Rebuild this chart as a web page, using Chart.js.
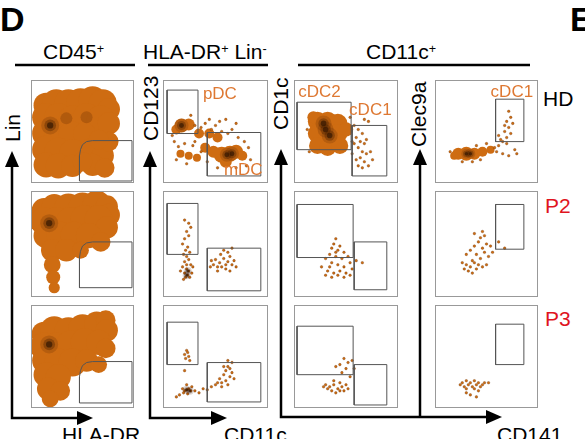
<!DOCTYPE html>
<html>
<head>
<meta charset="utf-8">
<script src="https://cdn.jsdelivr.net/npm/chart.js@4.4.0/dist/chart.umd.min.js"></script>
<style>
  body { margin: 0; background: #fff; font-family: 'Liberation Sans', Arial, sans-serif; }
  #fig { position: relative; width: 585px; height: 439px; overflow: hidden; }
  .panel { position: absolute; border: 1px solid #999; box-sizing: border-box; overflow: hidden; }
  .panel canvas { display: block; }
  .t { position: absolute; white-space: nowrap; color: #000; line-height: 1; }
  .rot { transform-origin: left top; transform: rotate(-90deg); }
  sup { font-size: 0.6em; vertical-align: 0.5em; line-height: 0; }
  svg { position: absolute; left: 0; top: 0; }
</style>
</head>
<body>
<div id="fig">
  <svg width="585" height="439">
    <g stroke="#000" stroke-width="2.5" fill="none">
      <line x1="15" y1="65" x2="135" y2="65"/>
      <line x1="148" y1="65" x2="268" y2="65"/>
      <line x1="298" y1="65" x2="530" y2="65"/>
      <polyline points="12,164 12,418 78,418"/>
      <polyline points="150,164 150,418 214,418"/>
      <polyline points="281,164 281,417 490,417"/>
      <line x1="420" y1="164" x2="420" y2="417"/>
    </g>
    <g fill="#000">
      <polygon points="12,151 5,167 19,167"/>
      <polygon points="150,151 143,167 157,167"/>
      <polygon points="281,149 274,165 288,165"/>
      <polygon points="420,149 413,165 427,165"/>
      <polygon points="93,418 77,411 77,425"/>
      <polygon points="227,418 211,411 211,425"/>
      <polygon points="502,417 486,410 486,424"/>
    </g>
  </svg>
  <div class="t" style="left:0;top:2px;font-size:34px;font-weight:bold">D</div>
  <div class="t" style="left:570px;top:2px;font-size:34px;font-weight:bold">E</div>
  <div class="t" style="left:43px;top:41px;font-size:21px">CD45<sup>+</sup></div>
  <div class="t" style="left:143px;top:41px;font-size:21px">HLA-DR<sup>+</sup> Lin<sup>-</sup></div>
  <div class="t" style="left:366px;top:41px;font-size:21px">CD11c<sup>+</sup></div>
  <div class="t rot" style="left:2px;top:142px;font-size:21px">Lin</div>
  <div class="t rot" style="left:140px;top:141px;font-size:21px">CD123</div>
  <div class="t rot" style="left:270px;top:130px;font-size:21px">CD1c</div>
  <div class="t rot" style="left:408px;top:147px;font-size:21px">Clec9a</div>
  <div class="t" style="left:62px;top:424px;font-size:21px">HLA-DR</div>
  <div class="t" style="left:224px;top:424px;font-size:21px">CD11c</div>
  <div class="t" style="left:497px;top:424px;font-size:21px">CD141</div>
  <div class="t" style="left:543px;top:88px;font-size:21px">HD</div>
  <div class="t" style="left:545px;top:195px;font-size:21px;color:#e0141e">P2</div>
  <div class="t" style="left:545px;top:308px;font-size:21px;color:#e0141e">P3</div>
</div>
<script>
// panel boxes: columns and rows (px)
const colX = [31, 163, 294, 435];
const colW = [103, 105, 104, 103];
const rowY = [80, 191, 305];
const rowH = [103, 106, 103];

// column 1: Lin vs HLA-DR density clouds [x, y, r]
const linHdCloud = [[14,76,9],[24,78,10],[36,78,10],[48,79,10],[60,81,10],[70,78,10],[76,72,8],[14,64,10],[26,64,10],[40,62,10],[54,64,10],[68,62,10],[76,58,8],[14,48,10],[26,48,10],[40,46,10],[52,48,8],[14,32,10],[26,30,10],[40,30,9],[14,17,9],[26,16,9],[40,16,8],[58,32,8],[70,26,8],[60,17,8],[72,14,7],[76,40,7],[66,42,7],[50,20,7]];
const linHdCore = [[18,56]];
const linHdStreak = [[34,63],[54,64]];
const linP2Cloud = [[12,82,9],[22,86,9],[36,85,10],[50,86,10],[64,88,10],[74,86,8],[76,78,8],[12,72,10],[24,72,10],[38,72,10],[52,74,10],[66,74,10],[74,66,8],[14,58,9],[28,58,10],[42,58,10],[56,58,9],[68,52,7],[20,44,8],[34,44,8],[48,44,6],[20,30,6],[21,18,5],[22,8,4]];
const linP2Core = [[17,70]];
const linP3Cloud = [[12,72,9],[22,76,10],[36,75,10],[50,78,10],[64,82,9],[73,86,7],[74,76,8],[12,60,10],[24,60,10],[38,62,10],[52,64,10],[66,64,9],[73,58,7],[14,46,10],[26,44,10],[40,44,10],[54,46,8],[66,42,6],[14,32,9],[26,30,9],[16,18,8],[28,16,7],[18,8,6]];
const linP3Core = [[17,62]];
const linGateHd = [[99,41],[60,41],[54,40],[50,37],[48,32],[47,26],[47,1],[99,1],[99,41]];
const linGateP2 = [[99,52],[60,52],[54,51],[50,48],[48,43],[47,37],[47,8],[99,8],[99,52]];
const linGateP3 = [[99,45],[60,45],[54,44],[50,41],[48,36],[47,30],[47,4],[99,4],[99,45]];

// column 2: CD123 vs CD11c
const cd123HdCloud = [[17,56,7],[24,57,6],[12,52,5],[56,27,8],[64,28,8],[70,30,7],[48,30,6],[76,26,5],[60,20,6],[40,34,5],[34,48,5],[44,48,5],[52,44,5],[16,28,4],[24,26,4],[32,24,4]];
const cd123HdDots = [[10,40],[14,35],[30,56],[36,54],[40,58],[46,52],[50,56],[56,50],[62,48],[66,52],[72,44],[78,40],[82,34],[84,22],[80,16],[70,14],[52,14],[42,20],[36,30],[28,36],[20,38],[12,22],[22,18],[30,40],[60,62],[54,60],[44,62],[70,58],[26,66],[8,46]];
const cd123HdCore = [[17,56],[61,27],[66,28]];
const cd123P2Dots = [[20,55],[22,62],[24,58],[26,66],[18,50],[23,47],[21,44],[25,42],[19,40],[22,38],[24,35],[20,33],[26,30],[18,28],[22,26],[24,24],[20,22],[23,20],[21,18],[25,18],[19,16],[27,22],[16,24],[22,30],[28,28],[50,35],[54,32],[58,36],[62,33],[66,30],[56,28],[60,26],[64,38],[52,28],[48,30],[68,34],[55,40],[62,42],[58,44],[70,28],[46,34],[60,30],[64,24],[52,24],[66,46],[45,28],[20,73],[24,70]];
const cd123P2Core = [[22,20],[23,24]];
const cd123P3Dots = [[20,52],[22,56],[24,50],[21,48],[23,54],[25,46],[20,36],[18,18],[20,16],[22,17],[24,18],[26,16],[19,14],[23,13],[27,20],[22,22],[30,16],[34,14],[38,18],[42,17],[46,20],[50,22],[54,28],[56,24],[58,32],[60,36],[62,40],[64,38],[66,34],[60,26],[56,20],[64,30],[68,28],[62,22],[58,40],[66,44],[62,46],[52,24],[12,10],[15,12]];
const cd123P3Core = [[22,17],[25,16]];
const pdcGates = [[[3,48],[33,48],[33,91],[3,91],[3,48]],[[3,40],[33,40],[33,89],[3,89],[3,40]],[[3,42],[33,42],[33,84],[3,84],[3,42]]];
const mdcGates = [[[42,6],[94,6],[94,49],[42,49],[42,6]],[[42,5],[94,5],[94,46],[42,46],[42,5]],[[42,5],[94,5],[94,44],[42,44],[42,5]]];

// column 3: CD1c vs CD11c
const cd1cHdCloud = [[22,60,8],[32,60,8],[42,58,8],[22,48,8],[32,48,8],[42,48,8],[22,36,7],[32,34,7],[44,36,7],[50,52,6],[18,64,5]];
const cd1cHdDots = [[58,56],[62,52],[66,48],[60,44],[64,40],[68,38],[62,34],[66,30],[70,28],[64,24],[68,20],[72,16],[60,22],[66,14],[74,30],[70,42],[58,38],[76,22],[62,16],[56,28],[72,60],[68,62],[14,30],[12,52],[54,64],[56,40]];
const cd1cHdCore = [[30,52],[34,46],[28,58]];
const cd1cP2Dots = [[40,55],[38,50],[36,46],[42,44],[44,48],[48,42],[34,40],[40,38],[46,36],[52,38],[30,36],[36,32],[42,30],[48,28],[54,32],[26,28],[32,24],[38,22],[44,24],[50,22],[56,26],[30,20],[36,18],[42,20],[48,18],[54,20],[60,34],[66,32],[40,42],[34,28]];
const cd1cP3Dots = [[48,48],[52,44],[44,42],[50,38],[56,46],[40,40],[46,34],[54,30],[58,38],[30,22],[34,20],[38,22],[42,18],[46,20],[50,22],[36,16],[40,14],[44,16],[32,18],[48,16],[52,18],[28,20],[44,24],[38,26]];
const cdc2Gates = [[[2,32],[55,32],[55,79],[2,79],[2,32]],[[2,37],[57,37],[57,88],[2,88],[2,37]],[[2,32],[57,32],[57,80],[2,80],[2,32]]];
const cdc1Gates = [[[56,6],[90,6],[90,56],[56,56],[56,6]],[[58,6],[90,6],[90,52],[58,52],[58,6]],[[58,2],[90,2],[90,42],[58,42],[58,2]]];

// column 4: Clec9a vs CD141
const clecHdCloud = [[22,28,6],[30,28,7],[38,28,6],[46,30,5],[54,32,4],[18,26,4]];
const clecHdDots = [[58,34],[62,36],[66,40],[70,44],[68,50],[72,54],[70,60],[74,64],[72,70],[68,56],[64,42],[60,30],[66,28],[72,26],[78,32],[62,46],[74,48],[70,38],[50,38],[44,22],[36,20],[26,20],[14,30],[40,36],[80,28],[76,58]];
const clecHdCore = [[30,28],[34,28]];
const clecP2Dots = [[30,40],[34,44],[38,48],[42,52],[46,46],[50,50],[40,40],[44,36],[48,42],[52,38],[36,34],[30,30],[34,28],[38,32],[42,30],[46,28],[28,26],[32,24],[36,22],[40,26],[44,56],[48,58],[54,48],[56,42],[62,52],[68,46],[26,32],[50,30],[38,60],[46,62]];
const clecP3Dots = [[26,24],[30,26],[34,24],[38,26],[42,24],[46,22],[28,20],[32,22],[36,20],[40,22],[44,20],[30,18],[38,18],[48,24],[52,24],[34,12],[40,10],[30,14],[42,16],[24,22]];
const clecGates = [[[59,40],[87,40],[87,82],[59,82],[59,40]],[[59,45],[87,45],[87,88],[59,88],[59,45]],[[59,42],[87,42],[87,82],[59,82],[59,42]]];

const ORANGE = 'rgb(206,108,18)';
const GATE = '#555';
const CLOUD_SCALE = 1.4;

const toXY = a => a.map(p => ({ x: p[0], y: p[1] }));
const toBub = (a, k) => a.map(p => ({ x: p[0], y: p[1], r: p[2] * k }));

function gateSet(pts) {
    return { type: 'scatter', data: toXY(pts), showLine: true, borderColor: GATE, borderWidth: 1, pointRadius: 0, fill: false, order: 0 };
}
function cloudSet(pts, k = 1) {
    return { type: 'bubble', data: toBub(pts, k), backgroundColor: ORANGE, borderWidth: 0, order: 3 };
}
function dotSet(pts) {
    return { type: 'scatter', data: toXY(pts), backgroundColor: ORANGE, borderColor: 'rgba(90,40,0,0.6)', borderWidth: 0.5, pointRadius: 1.3, order: 2 };
}
function coreSet(pts, r) {
    return [
        { type: 'scatter', data: toXY(pts), backgroundColor: 'rgba(70,30,0,0.18)', borderWidth: 0, pointRadius: r, order: 1 },
        { type: 'scatter', data: toXY(pts), backgroundColor: 'rgba(40,15,0,0.3)', borderWidth: 0, pointRadius: r * 0.65, order: 1 },
        { type: 'scatter', data: toXY(pts), backgroundColor: 'rgba(10,5,0,0.55)', borderWidth: 0, pointRadius: r * 0.35, order: 1 }
    ];
}
function streakSet(pts) {
    return { type: 'scatter', data: toXY(pts), backgroundColor: 'rgba(90,35,0,0.25)', borderWidth: 0, pointRadius: 6, order: 1 };
}

const panelTexts = [
    [0, 1, 'pDC', 38, 2], [0, 1, 'mDC', 58, 76],
    [0, 2, 'cDC2', 4, 0], [0, 2, 'cDC1', 53, 17],
    [0, 3, 'cDC1', 54, 0]
];

const grid = [
    [[cloudSet(linHdCloud, CLOUD_SCALE), streakSet(linHdStreak), ...coreSet(linHdCore, 9), gateSet(linGateHd)],
     [cloudSet(cd123HdCloud), dotSet(cd123HdDots), ...coreSet(cd123HdCore, 7), gateSet(pdcGates[0]), gateSet(mdcGates[0])],
     [cloudSet(cd1cHdCloud, 1.2), dotSet(cd1cHdDots), ...coreSet(cd1cHdCore, 8), gateSet(cdc2Gates[0]), gateSet(cdc1Gates[0])],
     [cloudSet(clecHdCloud), dotSet(clecHdDots), ...coreSet(clecHdCore, 5), gateSet(clecGates[0])]],
    [[cloudSet(linP2Cloud, CLOUD_SCALE), ...coreSet(linP2Core, 9), gateSet(linGateP2)],
     [dotSet(cd123P2Dots), ...coreSet(cd123P2Core, 4), gateSet(pdcGates[1]), gateSet(mdcGates[1])],
     [dotSet(cd1cP2Dots), gateSet(cdc2Gates[1]), gateSet(cdc1Gates[1])],
     [dotSet(clecP2Dots), gateSet(clecGates[1])]],
    [[cloudSet(linP3Cloud, CLOUD_SCALE), ...coreSet(linP3Core, 9), gateSet(linGateP3)],
     [dotSet(cd123P3Dots), ...coreSet(cd123P3Core, 4), gateSet(pdcGates[2]), gateSet(mdcGates[2])],
     [dotSet(cd1cP3Dots), gateSet(cdc2Gates[2]), gateSet(cdc1Gates[2])],
     [dotSet(clecP3Dots), gateSet(clecGates[2])]]
];

const fig = document.getElementById('fig');
grid.forEach((row, r) => {
    row.forEach((sets, c) => {
        const box = document.createElement('div');
        box.className = 'panel';
        box.style.left = colX[c] + 'px';
        box.style.top = rowY[r] + 'px';
        box.style.width = colW[c] + 'px';
        box.style.height = rowH[r] + 'px';
        const canvas = document.createElement('canvas');
        box.appendChild(canvas);
        fig.appendChild(box);
        new Chart(canvas, {
            type: 'scatter',
            data: { datasets: sets },
            options: {
                responsive: true,
                maintainAspectRatio: false,
                animation: false,
                layout: { padding: 0, autoPadding: false },
                plugins: { legend: { display: false }, tooltip: { enabled: false } },
                scales: {
                    x: { display: false, min: 0, max: 100, offset: false },
                    y: { display: false, min: 0, max: 100, offset: false }
                }
            }
        });
    });
});

panelTexts.forEach(([r, c, txt, px, py]) => {
    const d = document.createElement('div');
    d.className = 't';
    d.textContent = txt;
    d.style.color = 'rgb(222,120,50)';
    d.style.fontSize = '17px';
    d.style.left = (colX[c] + px * colW[c] / 100) + 'px';
    d.style.top = (rowY[r] + 3 + py * rowH[r] / 100) + 'px';
    fig.appendChild(d);
});
</script>
</body>
</html>
